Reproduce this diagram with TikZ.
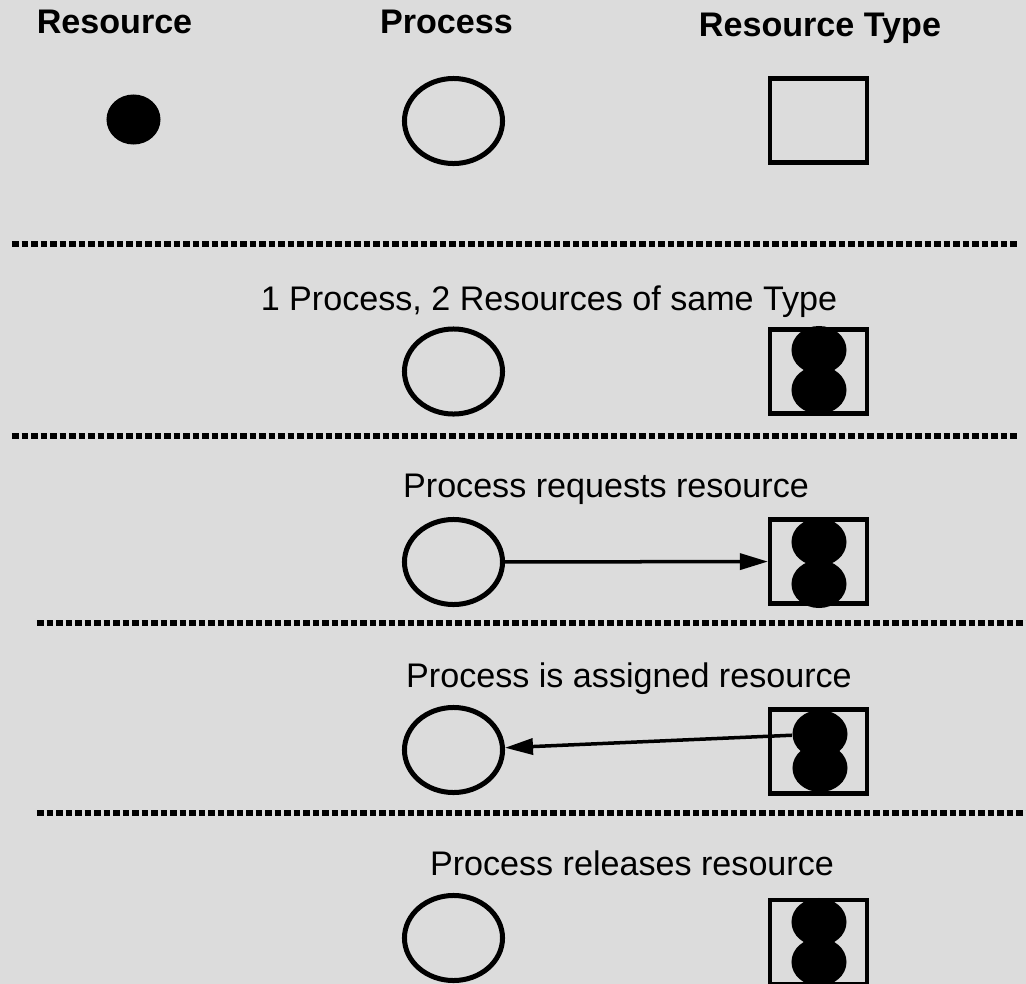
\documentclass[tikz,border=0pt]{standalone}
\usepackage{fontspec}
\setmainfont{Liberation Sans}
\usepackage{xcolor}
\usetikzlibrary{arrows.meta,shapes.geometric}

\definecolor{panel}{HTML}{DCDCDC}
\newcommand{\rsize}{\fontsize{9.7}{11.6}\selectfont}

\begin{document}
\begin{tikzpicture}[x=0.01cm, y=-0.01cm,
  proc/.style={draw, ellipse, line width=0.05cm, minimum width=0.98cm, minimum height=0.85cm, inner sep=0pt},
  rtype/.style={draw, rectangle, line width=0.045cm, minimum width=0.965cm, minimum height=0.835cm, inner sep=0pt},
  unit/.style={fill=black, ellipse, minimum width=0.55cm, minimum height=0.48cm, inner sep=0pt},
  head/.style={font=\rsize\bfseries, anchor=base, inner sep=0pt},
  caption/.style={font=\rsize, anchor=base, inner sep=0pt},
  sep/.style={line width=0.06cm, dash pattern=on 0.065cm off 0.03cm},
  arr/.style={-{Triangle[length=0.28cm, width=0.16cm]}, line width=0.035cm}]
  % Page
  \fill[panel] (0,0) rectangle (1026,984);
  \useasboundingbox (0,0) rectangle (1026,984);

  % Legend
  \node[head] (hres) at (114.5,33) {Resource};
  \node[head] (hproc) at (446.5,33) {Process};
  \node[head] (htype) at (820,36) {Resource Type};
  \node[unit, minimum width=0.54cm, minimum height=0.5cm] (res) at (133.5,119.5) {};
  \node[proc] (proc1) at (453.5,121) {};
  \node[rtype] (type1) at (818.5,120.5) {};

  \draw[sep] (12,244) -- (1018,244);

  % 1 Process, 2 Resources
  \node[caption] (cap2) at (549,310) {1 Process, 2 Resources of same Type};
  \node[proc] (proc2) at (453.5,371.5) {};
  \node[rtype] (type2) at (818.5,371.5) {};
  \node[unit] (unit2a) at (819,350) {};
  \node[unit] (unit2b) at (819,390) {};

  \draw[sep] (12,436) -- (1018,436);

  % Request edge
  \node[caption] (cap3) at (606,497) {Process requests resource};
  \node[proc] (proc3) at (453.5,562) {};
  \node[rtype] (type3) at (818.5,561.5) {};
  \node[unit] (unit3a) at (819,542) {};
  \node[unit] (unit3b) at (819,584) {};
  \draw[arr] (proc3) -- (type3);

  \draw[sep] (37,623) -- (1026,623);

  % Assignment edge
  \node[caption] (cap4) at (629,687) {Process is assigned resource};
  \node[proc] (proc4) at (453.5,750) {};
  \node[rtype] (type4) at (818.5,751.5) {};
  \node[unit] (unit4a) at (820,734) {};
  \node[unit] (unit4b) at (820,768) {};
  \draw[arr] (unit4a) -- (proc4);

  \draw[sep] (37,813) -- (1026,813);

  % Release
  \node[caption] (cap5) at (632,875) {Process releases resource};
  \node[proc] (proc5) at (453.5,938) {};
  \node[rtype] (type5) at (818.5,942) {};
  \node[unit] (unit5a) at (819,922) {};
  \node[unit] (unit5b) at (819,962) {};
\end{tikzpicture}
\end{document}
